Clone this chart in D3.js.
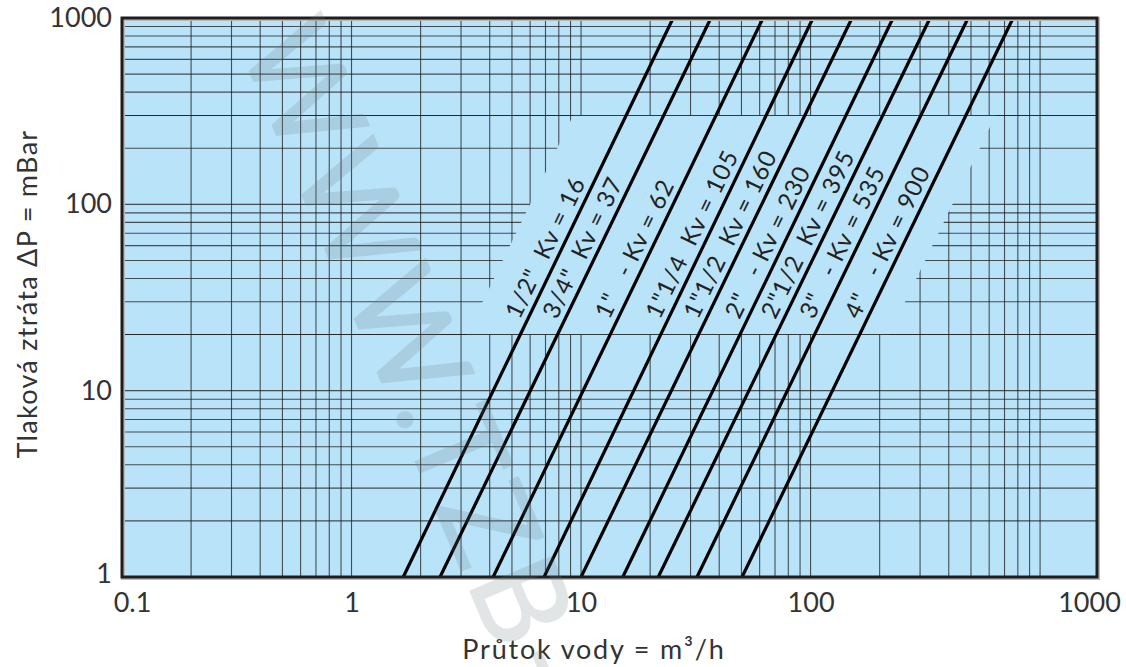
<!DOCTYPE html>
<html>
<head>
<meta charset="utf-8">
<script src="https://cdn.jsdelivr.net/npm/d3@7"></script>
<style>
    body { margin: 0; background: #fff; }
    text { font-family: Lato, "Open Sans", sans-serif; }
</style>
</head>
<body>
<script>

// hodnoty
var kvNames = ['1/2"  Kv = 16', '3/4"  Kv = 37', '1"   - Kv = 62', '1"1/4  Kv = 105', '1"1/2  Kv = 160',
    '2"   - Kv = 230', '2"1/2  Kv = 395', '3"   - Kv = 535', '4"   - Kv = 900'];
// průtok při 1 mBar a při 1000 mBar (m3/h)
var flowAt1 = [1.68, 2.43, 4.14, 6.9, 10.0, 15.2, 21.7, 32.0, 50.3];
var flowAt1000 = [25.2, 36.8, 62.1, 102.5, 151.6, 228.8, 331.7, 485.7, 763];
var xTickValues = [0.1, 1, 10, 100];
var yTickValues = [1, 10, 100, 1000];
// oblast bez mřížky pod popisky [průtok, mBar]
var clearArea = [[9.23, 300], [640, 300], [220, 20], [3.18, 20]];

var xMax = 1770;
var labelAt = 23;

var canvas = d3.select('body')
    .append('svg')
    .attr('width', 1126)
    .attr('height', 667)

var pLeft = 122, pRight = 1097, pTop = 18, pBottom = 577;

var xScale = d3.scaleLog()
    .domain([0.1, xMax])
    .range([pLeft, pRight])

var yScale = d3.scaleLog()
    .domain([1, 1000])
    .range([pBottom, pTop])

// pozadí
canvas.append('rect')
    .attr('x', pLeft)
    .attr('y', pTop)
    .attr('width', pRight - pLeft)
    .attr('height', pBottom - pTop)
    .attr('fill', '#b9e3f8')

// mřížka
var xGrid = [];
var yGrid = [];
[0.1, 1, 10, 100].forEach(function (dec) {
    for (var k = 1; k < 10; k++) {
        if (dec * k > 0.1) xGrid.push(dec * k);
    }
});
xGrid.push(1000);
[1, 10, 100].forEach(function (dec) {
    for (var k = 1; k < 10; k++) {
        if (dec * k > 1) yGrid.push(dec * k);
    }
});

var grid = canvas.append('g')
    .attr('stroke', '#1c1c1c')
    .attr('stroke-opacity', 0.75)
    .attr('stroke-width', 1.1)

grid.selectAll('.vx')
    .data(xGrid)
    .enter()
    .append('line')
    .attr('x1', function (d) { return xScale(d); })
    .attr('x2', function (d) { return xScale(d); })
    .attr('y1', pTop)
    .attr('y2', pBottom)

grid.selectAll('.hy')
    .data(yGrid)
    .enter()
    .append('line')
    .attr('x1', pLeft)
    .attr('x2', pRight)
    .attr('y1', function (d) { return yScale(d); })
    .attr('y2', function (d) { return yScale(d); })

// vyčištěná plocha pro popisky
canvas.append('polygon')
    .attr('points', clearArea.map(function (p) {
        return xScale(p[0]) + ',' + yScale(p[1]);
    }).join(' '))
    .attr('fill', '#b9e3f8')

canvas.append('g')
    .attr('stroke', '#1c1c1c')
    .attr('stroke-opacity', 0.75)
    .attr('stroke-width', 1.1)
    .selectAll('line')
    .data([20, 300])
    .enter()
    .append('line')
    .attr('x1', pLeft)
    .attr('x2', pRight)
    .attr('y1', function (d) { return yScale(d); })
    .attr('y2', function (d) { return yScale(d); })

// čáry Kv
canvas.selectAll('.kv')
    .data(kvNames)
    .enter()
    .append('line')
    .attr('class', 'kv')
    .attr('x1', function (d, i) { return xScale(flowAt1[i]); })
    .attr('y1', yScale(1))
    .attr('x2', function (d, i) { return xScale(flowAt1000[i]); })
    .attr('y2', yScale(1000))
    .attr('stroke', '#000')
    .attr('stroke-width', 3.2)

// popisky podél čar
var t = Math.log(labelAt) / Math.log(1000);
canvas.selectAll('.kvlabel')
    .data(kvNames)
    .enter()
    .append('text')
    .attr('class', 'kvlabel')
    .attr('transform', function (d, i) {
        var x0 = xScale(flowAt1[i]), y0 = yScale(1);
        var x1 = xScale(flowAt1000[i]), y1 = yScale(1000);
        var ang = Math.atan2(y1 - y0, x1 - x0);
        var q = Math.exp(Math.log(flowAt1[i]) + t * (Math.log(flowAt1000[i]) - Math.log(flowAt1[i])));
        var px = xScale(q) + 7 * Math.sin(ang);
        var py = yScale(labelAt) - 7 * Math.cos(ang);
        return 'translate(' + px + ',' + py + ') rotate(' + (ang * 180 / Math.PI) + ')';
    })
    .style('white-space', 'pre')
    .attr('font-size', 24)
    .attr('letter-spacing', 1)
    .attr('fill', '#222')
    .text(function (d) { return d; })

// rámeček
canvas.append('rect')
    .attr('x', pLeft + 1)
    .attr('y', pTop + 1)
    .attr('width', pRight - pLeft)
    .attr('height', pBottom - pTop)
    .attr('fill', 'none')
    .attr('stroke', '#bbb')
    .attr('stroke-width', 4)
canvas.append('rect')
    .attr('x', pLeft)
    .attr('y', pTop)
    .attr('width', pRight - pLeft)
    .attr('height', pBottom - pTop)
    .attr('fill', 'none')
    .attr('stroke', '#1e1e1e')
    .attr('stroke-width', 3)

// osy
var axisB = d3.axisBottom()
    .scale(xScale)
    .tickValues(xTickValues.concat([xMax]))
    .tickSize(0)
    .tickPadding(16)
    .tickFormat(function (d) { return d === xMax ? '1000' : String(d); })

var axisL = d3.axisLeft()
    .scale(yScale)
    .tickValues(yTickValues)
    .tickSize(0)
    .tickPadding(10)
    .tickFormat(function (d) { return String(d); })

var gB = canvas.append('g')
    .attr('transform', 'translate(0,' + pBottom + ')')
    .call(axisB)
gB.select('.domain').remove()
gB.selectAll('text')
    .attr('font-family', 'Lato, sans-serif')
    .attr('font-size', 27)
    .attr('fill', '#333')
    .attr('dx', function (d) { return d === 0.1 ? 10 : (d === xMax ? -8 : 0); })

var gL = canvas.append('g')
    .attr('transform', 'translate(' + pLeft + ',0)')
    .call(axisL)
gL.select('.domain').remove()
gL.selectAll('text')
    .attr('font-family', 'Lato, sans-serif')
    .attr('font-size', 27)
    .attr('fill', '#333')
    .attr('dy', function (d) { return d === 1000 ? '0.3em' : (d === 1 ? '0.2em' : '0.32em'); })

// názvy os
canvas.append('text')
    .text('Průtok vody = m³/h')
    .attr('x', 594)
    .attr('y', 659)
    .attr('text-anchor', 'middle')
    .attr('font-size', 27)
    .attr('letter-spacing', 1.8)
    .attr('fill', '#333')

canvas.append('text')
    .text('Tlaková ztráta ΔP = mBar')
    .attr('transform', 'translate(37,' + 294 + ') rotate(-90)')
    .attr('text-anchor', 'middle')
    .attr('font-size', 27)
    .attr('letter-spacing', 1.3)
    .attr('fill', '#333')

// vodoznak
canvas.append('g')
    .attr('opacity', 0.2)
    .append('text')
    .text('WWW.TZB-INFO.CZ')
    .attr('transform', 'translate(238,44) rotate(67)')
    .attr('font-size', 124)
    .attr('letter-spacing', 6)
    .attr('fill', '#6f7f88')
    .attr('stroke', '#6f7f88')
    .attr('stroke-width', 1.5)
    .attr('stroke-linejoin', 'round')

</script>
</body>
</html>
